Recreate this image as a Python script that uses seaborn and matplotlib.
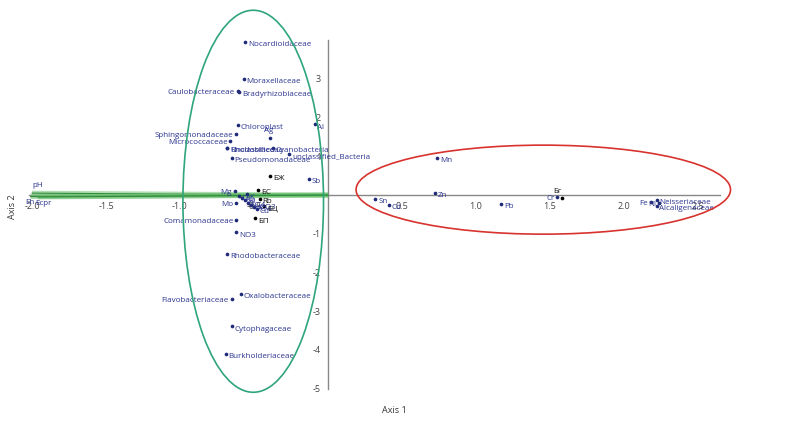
import pandas as pd
import seaborn as sns
import matplotlib.pyplot as plt
from matplotlib.patches import Ellipse

# families (blue dots)
fam_names = ["Nocardioidaceae", "Moraxellaceae", "Caulobacteraceae", "Bradyrhizobiaceae",
             "Chloroplast", "Sphingomonadaceae", "Micrococcaceae", "Rhodobiaceae", "Unclassified",
             "Cyanobacteria", "unclassified_Bacteria", "Pseudomonadaceae", "Comamonadaceae",
             "Rhodobacteraceae", "Oxalobacteraceae", "Flavobacteriaceae", "Cytophagaceae",
             "Burkholderiaceae", "Neisseriaceae", "Alcaligenaceae"]
fam_x = [-0.56, -0.57, -0.61, -0.60, -0.61, -0.62, -0.66, -0.68, -0.68, -0.37, -0.26, -0.65,
         -0.62, -0.68, -0.59, -0.65, -0.65, -0.69, 2.22, 2.22]
fam_y = [3.95, 3.00, 2.69, 2.66, 1.81, 1.58, 1.40, 1.22, 1.22, 1.22, 1.07, 0.96,
         -0.65, -1.52, -2.56, -2.69, -3.39, -4.11, -0.13, -0.27]

# environmental variables (blue dots)
env_names = ["Al", "Ag", "Sb", "Mn", "Zn", "Sn", "Cd", "Pb", "Cr", "Fe", "Ni", "NO3",
             "Mg", "K", "Mo", "Ca", "Na", "Cl", "SO4", "HCO3", "PO4", "Cu"]
env_x = [-0.09, -0.39, -0.13, 0.74, 0.72, 0.32, 0.41, 1.17, 1.55, 2.18, 2.24, -0.62,
         -0.63, -0.55, -0.62, -0.60, -0.58, -0.56, -0.54, -0.52, -0.50, -0.48]
env_y = [1.83, 1.48, 0.41, 0.96, 0.05, -0.10, -0.26, -0.23, -0.06, -0.18, -0.20, -0.96,
         0.10, 0.02, -0.20, -0.02, -0.08, -0.14, -0.20, -0.26, -0.30, -0.36]

# sample sites (black dots)
site_names = ["БЖ", "БС", "Rb", "БЦ", "БП", "Бг"]
site_x = [-0.39, -0.47, -0.46, -0.43, -0.49, 1.58]
site_y = [0.49, 0.13, -0.10, -0.28, -0.60, -0.07]

# arrows to the far left
arrow_names = ["pH", "Eh", "Ecpr"]
arrow_x = [-2.00, -2.01, -1.96]
arrow_y = [0.05, -0.04, -0.05]

left_labels = {"Caulobacteraceae", "Sphingomonadaceae", "Micrococcaceae", "Comamonadaceae",
               "Flavobacteriaceae", "Cr", "Fe", "Ni", "Mg", "Mo"}

blue = "#2b3590"
dot_blue = "#1f2a78"
fs = 5.8

fam = pd.DataFrame({"name": fam_names, "x": fam_x, "y": fam_y})
env = pd.DataFrame({"name": env_names, "x": env_x, "y": env_y})
site = pd.DataFrame({"name": site_names, "x": site_x, "y": site_y})

sns.set_style("white")
plt.rcParams["font.family"] = ["Open Sans", "DejaVu Sans"]
plt.rcParams["axes.unicode_minus"] = False

fig = plt.figure(figsize=(8.02, 4.30), dpi=100)
ax = fig.add_axes([0, 0, 1, 1])

# green arrows (drawn first, under everything)
for ax_x, ax_y in zip(arrow_x, arrow_y):
    ax.plot([0, ax_x], [0, ax_y], color="#6cc070", lw=3.5, alpha=0.55, solid_capstyle="butt", zorder=2)
    ax.plot([0, ax_x], [0, ax_y], color="#2e8b3a", lw=0.8, zorder=2)

sns.scatterplot(data=fam, x="x", y="y", color=dot_blue, s=7, linewidth=0, ax=ax, zorder=3)
sns.scatterplot(data=env, x="x", y="y", color=dot_blue, s=7, linewidth=0, ax=ax, zorder=3)
sns.scatterplot(data=site, x="x", y="y", color="black", s=7, linewidth=0, ax=ax, zorder=3)

def label(df, color):
    for n, x, y in zip(df["name"], df["x"], df["y"]):
        if n == "Ag":
            ax.annotate(n, (x, y), xytext=(-1, 3), textcoords="offset points",
                        ha="center", va="bottom", fontsize=fs, color=color)
        elif n == "Бг":
            ax.annotate(n, (x, y), xytext=(-3, 2), textcoords="offset points",
                        ha="center", va="bottom", fontsize=fs, color=color)
        elif n in left_labels:
            ax.annotate(n, (x, y), xytext=(-2, -1), textcoords="offset points",
                        ha="right", va="center", fontsize=fs, color=color)
        else:
            ax.annotate(n, (x, y), xytext=(2, -2), textcoords="offset points",
                        ha="left", va="center", fontsize=fs, color=color)

label(fam, blue)
label(env, blue)
label(site, "#111111")

ax.annotate("pH", (arrow_x[0], arrow_y[0]), xytext=(0, 3), textcoords="offset points",
            ha="left", va="bottom", fontsize=fs, color=blue)
ax.annotate("Eh", (arrow_x[1], arrow_y[1]), xytext=(-4, -2), textcoords="offset points",
            ha="left", va="top", fontsize=fs, color=blue)
ax.annotate("Ecpr", (arrow_x[2], arrow_y[2]), xytext=(-2, -2), textcoords="offset points",
            ha="left", va="top", fontsize=fs, color=blue)

# group ellipses
ax.add_patch(Ellipse((-0.505, -0.16), 0.95, 9.87, fill=False, ec="#2fa57a", lw=1.2, zorder=4))
ax.add_patch(Ellipse((1.455, 0.14), 2.53, 2.30, fill=False, ec="#d8332e", lw=1.2, zorder=4))

# axes through the origin
ax.set_xlim(-2.216, 3.203)
ax.set_ylim(-6.07, 5.04)
for s in ["top", "right"]:
    ax.spines[s].set_visible(False)
ax.spines["left"].set_position(("data", 0))
ax.spines["bottom"].set_position(("data", 0))
ax.spines["left"].set_bounds(-5.0, 4.0)
ax.spines["bottom"].set_bounds(-2.02, 2.65)
for s in ["left", "bottom"]:
    ax.spines[s].set_color("#888888")
    ax.spines[s].set_linewidth(1.0)
    ax.spines[s].set_zorder(1)
ax.set_xticks([-2.0, -1.5, -1.0, -0.5, 0.5, 1.0, 1.5, 2.0, 2.5])
ax.set_xticklabels(["-2.0", "-1.5", "-1.0", "-0.5", "0.5", "1.0", "1.5", "2.0", "2.5"])
ax.set_yticks([-5, -4, -3, -2, -1, 1, 2, 3])
ax.tick_params(axis="both", length=3, width=0.8, color="#888888", labelsize=6.5,
               labelcolor="#444444", pad=2, direction="out")
ax.set_xlabel("")
ax.set_ylabel("")

fig.text(0.492, 0.045, "Axis 1", fontsize=6.5, color="#333333", ha="center", va="center")
fig.text(0.015, 0.52, "Axis 2", fontsize=6.5, color="#333333", ha="center", va="center", rotation=90)

fig.savefig("out.png", dpi=100)
